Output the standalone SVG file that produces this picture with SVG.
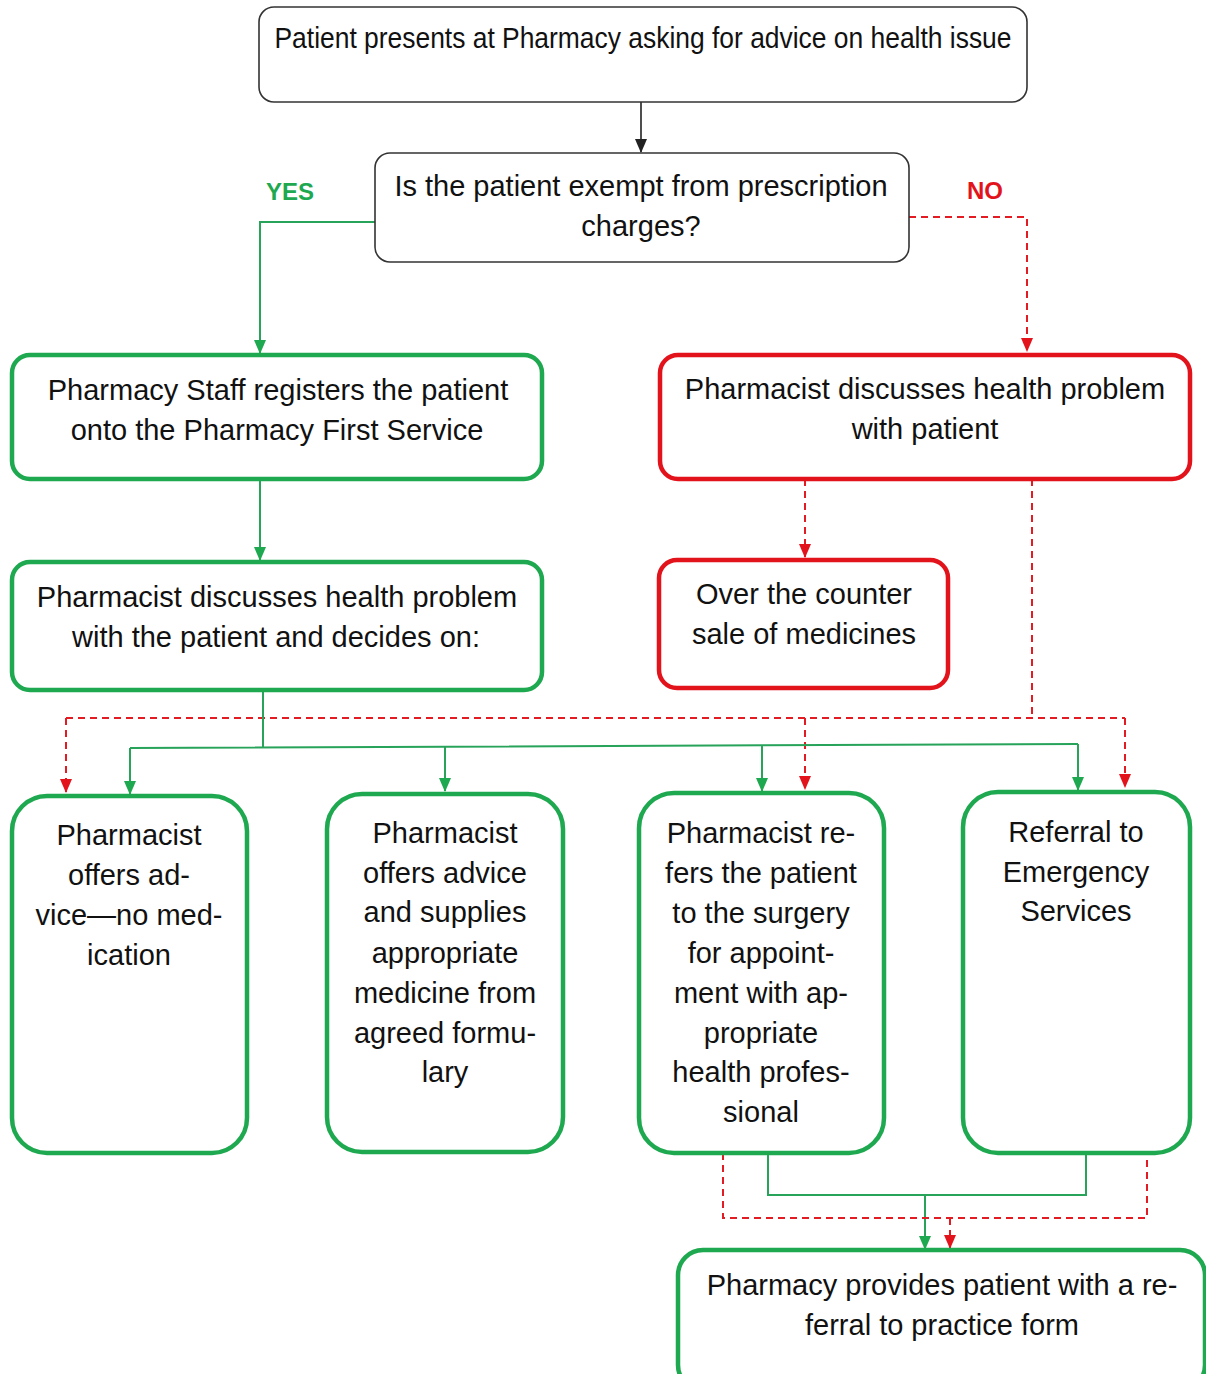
<svg xmlns="http://www.w3.org/2000/svg" width="1206" height="1374" viewBox="0 0 1206 1374">
<style>
text{font-family:"Liberation Sans",Arial,sans-serif;font-size:29px;fill:#111;text-anchor:middle}
.gray{fill:#fff;stroke:#333;stroke-width:1.6}
.gbox{fill:#fff;stroke:#1ea84f;stroke-width:4.5}
.rbox{fill:#fff;stroke:#e3131c;stroke-width:4.5}
.k{fill:none;stroke:#222;stroke-width:1.6}
.g{fill:none;stroke:#27a35a;stroke-width:2}
.r{fill:none;stroke:#e31b23;stroke-width:2;stroke-dasharray:7,5}
.lbl{font-weight:bold;font-size:24px}
</style>
<defs>
<marker id="ak" markerUnits="userSpaceOnUse" markerWidth="14" markerHeight="14" refX="7" refY="13" orient="auto" viewBox="0 0 14 14"><path d="M1,0 L13,0 L7,14 Z" fill="#222" transform="rotate(-90 7 7)"/></marker>
</defs>
<defs>
<marker id="mk" markerUnits="userSpaceOnUse" markerWidth="14" markerHeight="14" refX="13" refY="7" orient="auto" viewBox="0 0 14 14"><path d="M0,1 L14,7 L0,13 Z" fill="#222"/></marker>
<marker id="mg" markerUnits="userSpaceOnUse" markerWidth="14" markerHeight="14" refX="13" refY="7" orient="auto" viewBox="0 0 14 14"><path d="M0,1 L14,7 L0,13 Z" fill="#1ea84f"/></marker>
<marker id="mr" markerUnits="userSpaceOnUse" markerWidth="14" markerHeight="14" refX="13" refY="7" orient="auto" viewBox="0 0 14 14"><path d="M0,1 L14,7 L0,13 Z" fill="#e3131c"/></marker>
</defs>
<rect width="1206" height="1374" fill="#fff"/>

<g id="connectors">
<path class="k" d="M641,102 V152" marker-end="url(#mk)"/>
<path class="g" d="M375,222 H260 V353" marker-end="url(#mg)"/>
<path class="r" d="M909,217 H1027 V351" marker-end="url(#mr)"/>
<path class="g" d="M260,479 V560" marker-end="url(#mg)"/>
<path class="r" d="M805,479 V557" marker-end="url(#mr)"/>
<path class="r" d="M1032,479 V718 M66,718 H1125"/>
<path class="r" d="M66,718 V792" marker-end="url(#mr)"/>
<path class="r" d="M805,718 V789" marker-end="url(#mr)"/>
<path class="r" d="M1125,718 V787" marker-end="url(#mr)"/>
<path class="g" d="M263,690 V747 M130,748 L1078,744"/>
<path class="g" d="M130,748 V794" marker-end="url(#mg)"/>
<path class="g" d="M445,747 V791" marker-end="url(#mg)"/>
<path class="g" d="M762,745 V791" marker-end="url(#mg)"/>
<path class="g" d="M1078,744 V790" marker-end="url(#mg)"/>
<path class="g" d="M768,1153 V1195 H1086 V1153"/>
<path class="g" d="M925,1195 V1249" marker-end="url(#mg)"/>
<path class="r" d="M723,1153 V1218 H1147 V1153"/>
<path class="r" d="M950,1218 V1248" marker-end="url(#mr)"/>
</g>

<g id="start">
<rect class="gray" x="259" y="7" width="768" height="95" rx="15"/>
<text x="643" y="48" font-size="25" textLength="737" lengthAdjust="spacingAndGlyphs">Patient presents at Pharmacy asking for advice on health issue</text>
</g>

<g id="decision">
<rect class="gray" x="375" y="153" width="534" height="109" rx="15"/>
<text x="641" y="196">Is the patient exempt from prescription</text>
<text x="641" y="236">charges?</text>
</g>
<text class="lbl" x="290" y="200" style="fill:#1ea84f">YES</text>
<text class="lbl" x="985" y="199" style="fill:#e3131c">NO</text>

<g id="register">
<rect class="gbox" x="12" y="355" width="530" height="124" rx="18"/>
<text x="278" y="400">Pharmacy Staff registers the patient</text>
<text x="277" y="440">onto the Pharmacy First Service</text>
</g>

<g id="discuss-yes">
<rect class="gbox" x="12" y="562" width="530" height="128" rx="18"/>
<text x="277" y="607">Pharmacist discusses health problem</text>
<text x="276" y="647">with the patient and decides on:</text>
</g>

<g id="discuss-no">
<rect class="rbox" x="660" y="355" width="530" height="124" rx="18"/>
<text x="925" y="399">Pharmacist discusses health problem</text>
<text x="925" y="439">with patient</text>
</g>

<g id="otc">
<rect class="rbox" x="659" y="560" width="289" height="128" rx="18"/>
<text x="804" y="604">Over the counter</text>
<text x="804" y="644">sale of medicines</text>
</g>

<g id="advice">
<rect class="gbox" x="12" y="796" width="235" height="357" rx="35"/>
<text x="129" y="845">Pharmacist</text>
<text x="129" y="885">offers ad-</text>
<text x="129" y="925">vice—no med-</text>
<text x="129" y="965">ication</text>
</g>

<g id="supply">
<rect class="gbox" x="327" y="794" width="236" height="358" rx="35"/>
<text x="445" y="843">Pharmacist</text>
<text x="445" y="883">offers advice</text>
<text x="445" y="922">and supplies</text>
<text x="445" y="963">appropriate</text>
<text x="445" y="1003">medicine from</text>
<text x="445" y="1043">agreed formu-</text>
<text x="445" y="1082">lary</text>
</g>

<g id="refer-surgery">
<rect class="gbox" x="639" y="793" width="245" height="360" rx="35"/>
<text x="761" y="843">Pharmacist re-</text>
<text x="761" y="883">fers the patient</text>
<text x="761" y="923">to the surgery</text>
<text x="761" y="963">for appoint-</text>
<text x="761" y="1003">ment with ap-</text>
<text x="761" y="1043">propriate</text>
<text x="761" y="1082">health profes-</text>
<text x="761" y="1122">sional</text>
</g>

<g id="emergency">
<rect class="gbox" x="963" y="792" width="227" height="361" rx="35"/>
<text x="1076" y="842">Referral to</text>
<text x="1076" y="882">Emergency</text>
<text x="1076" y="921">Services</text>
</g>

<g id="referral-form">
<rect class="gbox" x="678" y="1250" width="527" height="140" rx="25"/>
<text x="942" y="1295">Pharmacy provides patient with a re-</text>
<text x="942" y="1335">ferral to practice form</text>
</g>
</svg>
